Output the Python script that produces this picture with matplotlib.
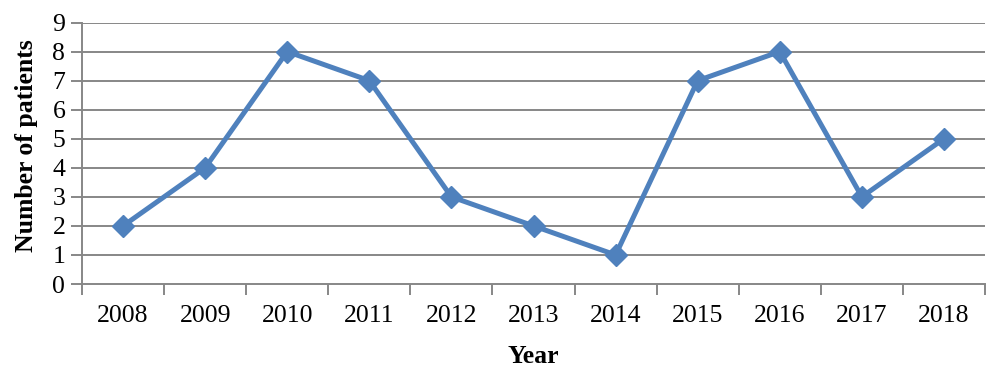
import matplotlib.pyplot as plt
import numpy as np
from matplotlib.ticker import FixedLocator, MultipleLocator

years = ['2008', '2009', '2010', '2011', '2012', '2013', '2014', '2015', '2016', '2017', '2018']
patients = [2, 4, 8, 7, 3, 2, 1, 7, 8, 3, 5]

plt.rcParams['font.family'] = ['Liberation Serif', 'DejaVu Serif']

fig = plt.figure(figsize=(10, 3.73), dpi=100)
ax = fig.add_axes([0.082, 0.2386, 0.903, 0.701])

grid_col = '#878787'
x = np.arange(len(years))

# horizontal gridlines
for v in range(1, 10):
    ax.axhline(v, color=grid_col, lw=1.4, zorder=1)

ax.plot(x, patients, color='#4F81BD', lw=3.6, marker='D', markersize=11,
        markerfacecolor='#4F81BD', markeredgecolor='#4F81BD', zorder=3)

ax.set_xlim(-0.5, len(years) - 0.5)
ax.set_ylim(0, 9)

# category labels centred, ticks between categories
ax.set_xticks(x)
ax.set_xticklabels(years)
ax.xaxis.set_minor_locator(FixedLocator(np.arange(-0.5, len(years), 1.0)))
ax.tick_params(axis='x', which='major', length=0, pad=15, labelsize=18.5)
ax.tick_params(axis='x', which='minor', length=8, width=1.4, color=grid_col, direction='out')
ax.yaxis.set_major_locator(MultipleLocator(1))
ax.tick_params(axis='y', length=8, width=1.4, color=grid_col, direction='out', labelsize=18.5, pad=4)

for s in ['top', 'right']:
    ax.spines[s].set_visible(False)
for s in ['left', 'bottom']:
    ax.spines[s].set_color(grid_col)
    ax.spines[s].set_linewidth(1.4)

ax.set_xlabel('Year', fontsize=18.5, fontweight='bold', labelpad=13)
ax.set_ylabel('Number of patients', fontsize=18.5, fontweight='bold')
ax.yaxis.set_label_coords(-0.049, 0.53)

fig.savefig('out.png', dpi=100)
